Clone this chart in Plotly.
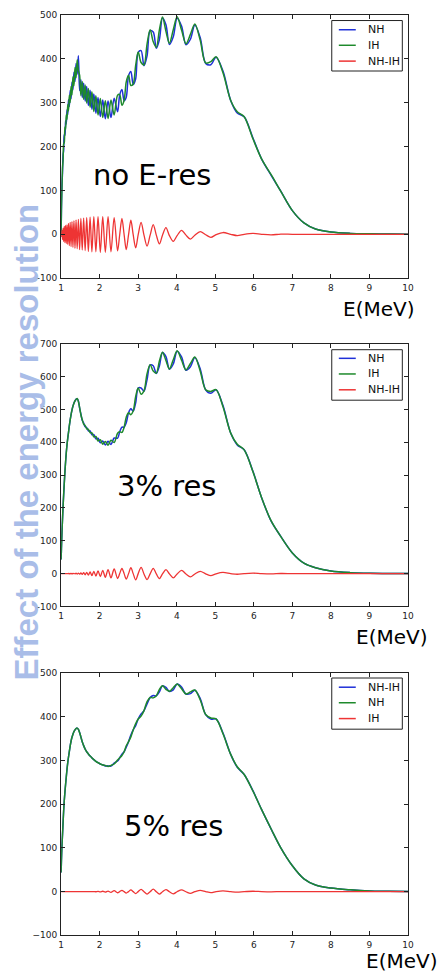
import numpy as np
import plotly.graph_objects as go

# Energy grid (MeV): oscillation extrema and quarter points, then the tail
energy = [
    1.000, 1.008, 1.022, 1.036, 1.051, 1.066, 1.082, 1.099, 1.116, 1.134,
    1.153, 1.172, 1.192, 1.213, 1.235, 1.258, 1.282, 1.307, 1.333, 1.360,
    1.388, 1.417, 1.448, 1.480, 1.513, 1.548, 1.585, 1.624, 1.664, 1.707,
    1.752, 1.799, 1.849, 1.902, 1.958, 2.017, 2.080, 2.147, 2.218, 2.294,
    2.376, 2.465, 2.520, 2.578, 2.635, 2.690, 2.750, 2.810, 2.870, 2.935,
    3.000, 3.075, 3.150, 3.230, 3.310, 3.390, 3.470, 3.550, 3.630, 3.720,
    3.810, 3.910, 4.010, 4.125, 4.240, 4.355, 4.470, 4.610, 4.750, 4.885,
    5.020, 5.200, 5.400, 5.570, 5.750, 5.980, 6.200, 6.450, 6.700, 7.000,
    7.300, 7.600, 8.000, 8.500, 9.000, 9.500, 10.00,
]

# No energy resolution: mean of NH/IH spectra and NH-IH difference
mean_nores = [
    0, 55, 110, 145, 175, 198, 218, 235, 249, 262,
    273, 284, 294, 304, 314, 323, 332, 344, 354, 364,
    373, 381, 390, 345, 334, 330, 326, 322, 318, 313,
    309, 305, 300, 296, 292, 289, 286, 284, 284, 286,
    291, 298, 318, 312, 305, 330, 362, 355, 342, 370,
    415, 405, 385, 420, 465, 450, 425, 455, 494, 470,
    434, 458, 494, 470, 433, 450, 478, 445, 390, 390,
    404, 370, 305, 278, 268, 218, 172, 135, 98, 54,
    26, 12, 5, 2, 1, 0.5, 0,
]
diff_nores = [
    0, -5, 9, -12, 14, -16, 18, -19, 20, -21,
    22, -23, 25, -26, 27, -28, 29, -30, 31, -32,
    33, -33, 34, -35, 36, -36, 37, -37, 38, -39,
    39, -40, 40, -40, 40, -41, 40, -41, 40, -40,
    38, -38, -1, 36, -1, -35, -1, 32, -1, -31,
    -1, 27, -2, -27, -2, 22, -2, -22, -2, 15,
    -3, -16, -3, 9, -2, -11, -2, 6, -1, -7,
    -1, 4, 0, -3, 0, 2, 0, -1.5, 0.5, 0,
    0, 0, 0, 0, 0, 0, 0,
]

# 3% energy resolution
mean_res3 = [
    43, 75, 125, 165, 205, 240, 275, 310, 340, 368,
    392, 412, 430, 450, 468, 484, 498, 510, 519, 526,
    531, 533, 525, 505, 485, 468, 457, 449, 443, 437,
    432, 426, 420, 414, 408, 403, 399, 397, 397, 400,
    406, 420, 432, 438, 446, 468, 490, 493, 495, 530,
    565, 556, 556, 600, 636, 625, 610, 640, 674, 655,
    623, 645, 678, 655, 620, 635, 659, 620, 560, 552,
    560, 510, 428, 393, 377, 310, 232, 160, 113, 63,
    32, 18, 8, 3, 1, 0.5, 0,
]
diff_res3 = [
    0, 0, 0, 0, 0, 0, 0, 0, 0, 0,
    0, -0.3, 0.3, -0.4, 0.5, -0.6, 0.7, -0.8, 1, -1,
    1.2, -1.4, 1.6, -1.8, 2.2, -2.5, 3, -3.5, 4, -4.5,
    5.5, -6, 7, -7.5, 8.5, -9, 10, -11, 12, -13,
    14, -15, 0, 16, 0, -17, 0, 18, 0, -19,
    0, 19, -1, -18, -1, 16, -1, -15, -1, 12,
    -1, -13, -1, 10, -1, -10, -1, 7, -0.5, -6,
    -0.5, 3.5, 0, -2, 0, 1.5, 0, -0.8, 0.3, 0,
    0, 0, 0, 0, 0, 0, 0,
]

# 5% energy resolution
mean_res5 = [
    44, 70, 105, 130, 158, 185, 208, 228, 245, 262,
    280, 295, 308, 320, 333, 344, 353, 360, 366, 370,
    373, 374, 371, 364, 354, 343, 334, 326, 320, 315,
    310, 306, 302, 298, 295, 292, 290, 288, 287, 288,
    293, 300, 306, 313, 320, 332, 343, 356, 370, 382,
    395, 404, 414, 432, 444, 446, 448, 460, 471, 465,
    458, 464, 475, 466, 452, 455, 461, 440, 405, 396,
    395, 362, 314, 285, 268, 230, 188, 143, 100, 59,
    29, 15, 8, 4, 1.5, 0.7, 0,
]
diff_res5 = [
    0, 0, 0, 0, 0, 0, 0, 0, 0, 0,
    0, 0, 0, 0, 0, 0, 0, 0, 0, 0,
    0, 0, 0, 0, 0, 0, 0, 0, 0, 0,
    0, 0, 0, -0.3, 0.4, -0.6, 0.8, -1, 1.3, -1.7,
    2.1, -2.6, 0, 3, 0, -3.4, 0, 4, 0, -4.5,
    0, 5, -0.3, -5.5, -0.3, 5.5, -0.3, -5.5, -0.3, 4.5,
    -0.3, -5, -0.3, 4, -0.3, -4, -0.2, 3, 0, -2.5,
    0, 1.8, 0, -1.2, 0, 0.8, 0, -0.4, 0, 0,
    0, 0, 0, 0, 0, 0, 0,
]

for arr in (mean_nores, diff_nores, mean_res3, diff_res3, mean_res5, diff_res5):
    assert len(arr) == len(energy)

x_ticks = [1, 2, 3, 4, 5, 6, 7, 8, 9, 10]
y_ticks_500 = [-100, 0, 100, 200, 300, 400, 500]
y_labels_500 = ["-100", "0", "100", "200", "300", "400", "500"]
y_ticks_700 = [-100, 0, 100, 200, 300, 400, 500, 600, 700]
y_labels_700 = ["-100", "0", "100", "200", "300", "400", "500", "600", "700"]
y_labels_500_minus = ["\u2212100", "0", "100", "200", "300", "400", "500"]

panel_titles = ["no E-res", "3% res", "5% res"]
legend_names = [
    ["NH", "IH", "NH-IH"],
    ["NH", "IH", "NH-IH"],
    ["NH-IH", "NH", "IH"],
]

W, H = 448, 972
X0, X1 = 59.3, 413.3
panel_px = [(10.0, 276.0), (342.3, 607.7), (675.0, 940.0)]
y_ranges = [[-100, 500], [-100, 700], [-100, 500]]
y_tickvals = [y_ticks_500, y_ticks_700, y_ticks_500]
y_ticktext = [y_labels_500, y_labels_700, y_labels_500_minus]

BLUE, GREEN, RED = "#1f30d8", "#1e8a2c", "#ee3434"
COLORS = [BLUE, GREEN, RED]
TICK_FONT = dict(family="DejaVu Sans", size=9, color="#222222")

E = np.array(energy)
series = [
    (np.array(mean_nores), np.array(diff_nores)),
    (np.array(mean_res3), np.array(diff_res3)),
    (np.array(mean_res5), np.array(diff_res5)),
]

fig = go.Figure()
layout = dict(
    width=W, height=H,
    margin=dict(l=0, r=0, t=0, b=0),
    paper_bgcolor="white", plot_bgcolor="white",
    showlegend=False,
)

annotations = []
shapes = []


def px_x(v):
    return v / W


def px_y(v):
    return 1 - v / H


# legend boxes: (left, top, right, bottom) and row centres, in pixels
legend_boxes = [
    (335.5, 15.7, 407.5, 66.7, [25.0, 40.7, 56.7]),
    (335.5, 348.3, 407.5, 399.3, [357.0, 372.8, 388.8]),
    (335.5, 680.0, 407.5, 731.7, [689.3, 705.0, 721.0]),
]

for i, ((mean, diff), names) in enumerate(zip(series, legend_names)):
    suffix = "" if i == 0 else str(i + 1)
    xa, ya = "x" + suffix, "y" + suffix
    nh = mean + diff / 2.0
    ih = mean - diff / 2.0
    for yvals, color, name, width in (
        (nh, BLUE, names[0], 1.5),
        (ih, GREEN, names[1], 1.5),
        (diff, RED, names[2], 1.3),
    ):
        fig.add_trace(go.Scatter(
            x=E, y=yvals, mode="lines", name=name,
            line=dict(color=color, width=width, shape="spline", smoothing=0.9),
            xaxis=xa, yaxis=ya,
        ))

    top, bot = panel_px[i]
    layout["xaxis" + suffix] = dict(
        domain=[X0 / W, X1 / W], anchor=ya, range=[1, 10],
        tickvals=x_ticks, ticktext=[str(t) for t in x_ticks],
        ticks="inside", ticklen=4, tickcolor="#222", tickwidth=1,
        showline=True, linecolor="#222", linewidth=1, mirror="ticks",
        showgrid=False, zeroline=False, tickfont=TICK_FONT,
        ticklabelstandoff=1,
    )
    layout["yaxis" + suffix] = dict(
        domain=[1 - bot / H, 1 - top / H], anchor=xa, range=y_ranges[i],
        tickvals=y_tickvals[i], ticktext=y_ticktext[i],
        ticks="inside", ticklen=4, tickcolor="#222", tickwidth=1,
        showline=True, linecolor="#222", linewidth=1, mirror="ticks",
        showgrid=False, zeroline=False, tickfont=TICK_FONT,
        ticklabelstandoff=1,
    )

    # legend frame, line samples and labels
    lx0, ly0, lx1, ly1, rows = legend_boxes[i]
    shapes.append(dict(
        type="rect", xref="paper", yref="paper",
        x0=px_x(lx0), x1=px_x(lx1), y0=px_y(ly1), y1=px_y(ly0),
        line=dict(color="#222", width=1), fillcolor="white", layer="above",
    ))
    for row_y, color, name in zip(rows, COLORS, names):
        shapes.append(dict(
            type="line", xref="paper", yref="paper",
            x0=px_x(lx0 + 7.2), x1=px_x(lx0 + 24.5),
            y0=px_y(row_y), y1=px_y(row_y),
            line=dict(color=color, width=1.5), layer="above",
        ))
        annotations.append(dict(
            text=name, x=px_x(lx0 + 35.0), y=px_y(row_y),
            xref="paper", yref="paper", showarrow=False,
            xanchor="left", yanchor="middle",
            font=dict(family="DejaVu Sans", size=11, color="#111"),
        ))

# Panel captions
caption_pos = [(151.7, 171.7), (167.2, 485.7), (173.8, 830.0)]
for text, (cx, cy) in zip(panel_titles, caption_pos):
    annotations.append(dict(
        text=text, x=px_x(cx), y=px_y(cy), xref="paper", yref="paper",
        showarrow=False, xanchor="center", yanchor="middle",
        font=dict(family="DejaVu Sans", size=29, color="#000"),
    ))

# Energy axis labels
for cx, cy in [(383.7, 307.0), (396.7, 639.0), (406.7, 966.0)]:
    annotations.append(dict(
        text="E(MeV)", x=px_x(cx), y=px_y(cy), xref="paper", yref="paper",
        showarrow=False, xanchor="center", yanchor="middle",
        font=dict(family="DejaVu Sans", size=20, color="#000"),
    ))

# Side title
annotations.append(dict(
    text="<b>Effect of the energy resolution</b>", x=px_x(24), y=px_y(441.5),
    xref="paper", yref="paper", showarrow=False, textangle=-90,
    xanchor="center", yanchor="middle",
    font=dict(family="Liberation Sans", size=33, color="#a9bde8"),
))

layout["annotations"] = annotations
layout["shapes"] = shapes
fig.update_layout(**layout)
fig.write_html("out.html")
